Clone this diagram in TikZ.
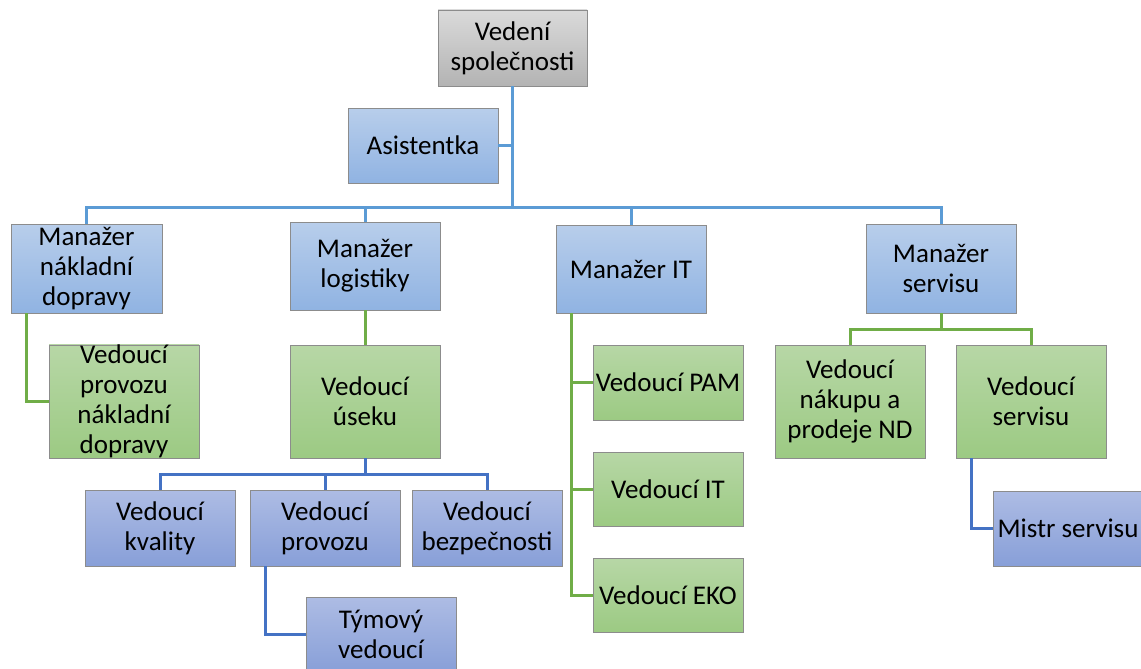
\documentclass[tikz,border=0pt]{standalone}
\usepackage{fontspec}
\setmainfont{Carlito}
\definecolor{grayT}{HTML}{DADADA}
\definecolor{grayB}{HTML}{B3B3B3}
\definecolor{blueT}{HTML}{B8CEEB}
\definecolor{blueB}{HTML}{90B3E2}
\definecolor{greenT}{HTML}{B7D7A6}
\definecolor{greenB}{HTML}{9CCA83}
\definecolor{purT}{HTML}{ADBCE4}
\definecolor{purB}{HTML}{889FD8}
\definecolor{lnBlue}{HTML}{5B9BD5}
\definecolor{lnGreen}{HTML}{70AD47}
\definecolor{lnDark}{HTML}{4472C4}
\tikzset{
  box/.style={draw=black!45, line width=0.9pt, align=center, inner sep=0pt,
    font=\fontsize{27}{30}\selectfont},
  grbox/.style={box, top color=grayT, bottom color=grayB},
  blbox/.style={box, top color=blueT, bottom color=blueB},
  gnbox/.style={box, top color=greenT, bottom color=greenB},
  pubox/.style={box, top color=purT, bottom color=purB},
  cblue/.style={draw=lnBlue, line width=3pt},
  cgreen/.style={draw=lnGreen, line width=3pt},
  cdark/.style={draw=lnDark, line width=3pt},
}
\begin{document}
\begin{tikzpicture}[x=1pt,y=-1pt]
\useasboundingbox (0,0) rectangle (1141,669);
\clip (0,0) rectangle (1141,669);
\fill[white] (0,0) rectangle (1141,669);

\node[grbox, minimum width=149pt, minimum height=76pt] (top) at (512.5,48) {Vedení\\společnosti};
\node[blbox, minimum width=150pt, minimum height=75pt] (asist) at (423,145.5) {Asistentka};
\node[blbox, minimum width=151pt, minimum height=89pt] (mnd) at (86.5,268.5) {Manažer\\nákladní\\dopravy};
\node[blbox, minimum width=150pt, minimum height=88pt] (mlog) at (365,266) {Manažer\\logistiky};
\node[blbox, minimum width=150pt, minimum height=88pt] (mit) at (631,269) {Manažer IT};
\node[blbox, minimum width=150pt, minimum height=89pt] (mser) at (941,268.5) {Manažer\\servisu};

\node[gnbox, minimum width=150pt, minimum height=113pt] (vpnd) at (124,401.5) {Vedoucí\\provozu\\nákladní\\dopravy};
\node[gnbox, minimum width=150pt, minimum height=113pt] (vus) at (365,401.5) {Vedoucí\\úseku};
\node[gnbox, minimum width=150pt, minimum height=75pt] (vpam) at (668,382.5) {Vedoucí PAM};
\node[gnbox, minimum width=150pt, minimum height=74pt] (vit) at (668,489) {Vedoucí IT};
\node[gnbox, minimum width=150pt, minimum height=74pt] (veko) at (668,595) {Vedoucí EKO};
\node[gnbox, minimum width=150pt, minimum height=113pt] (vnak) at (850,401.5) {Vedoucí\\nákupu a\\prodeje ND};
\node[gnbox, minimum width=150pt, minimum height=113pt] (vser) at (1031,401.5) {Vedoucí\\servisu};

\node[pubox, minimum width=150pt, minimum height=76pt] (vkv) at (160,528) {Vedoucí\\kvality};
\node[pubox, minimum width=150pt, minimum height=76pt] (vpr) at (325,528) {Vedoucí\\provozu};
\node[pubox, minimum width=150pt, minimum height=76pt] (vbez) at (487,528) {Vedoucí\\bezpečnosti};
\node[pubox, minimum width=150pt, minimum height=75pt] (tym) at (381,634.5) {Týmový\\vedoucí};
\node[pubox, minimum width=150pt, minimum height=75pt] (mistr) at (1068,528.5) {Mistr servisu};

% top-level connectors
\coordinate (bus) at (512.5,207);
\draw[cblue] (top.south) -- (bus);
\draw[cblue] (asist.east) -- (asist.east -| bus);
\draw[cblue] (mnd.north) |- (bus) -| (mser.north);
\draw[cblue] (mlog.north) -- (mlog.north |- bus);
\draw[cblue] (mit.north) -- (mit.north |- bus);

% green connectors
\draw[cgreen] ([xshift=-60.5pt]mnd.south) |- (vpnd.west);
\draw[cgreen] (mlog.south) -- (vus.north);
\coordinate (itl) at ([xshift=-60pt]mit.south);
\draw[cgreen] (itl) |- (veko.west);
\draw[cgreen] (vpam.west) -- (vpam.west -| itl);
\draw[cgreen] (vit.west) -- (vit.west -| itl);
\draw[cgreen] (mser.south) -- ++(0,16) coordinate (sb);
\draw[cgreen] (vnak.north) |- (sb) -| (vser.north);

% dark blue connectors
\draw[cdark] (vus.south) -- ++(0,16) coordinate (ub);
\draw[cdark] (vkv.north) |- (ub) -| (vbez.north);
\draw[cdark] (vpr.north) -- (vpr.north |- ub);
\draw[cdark] ([xshift=-60pt]vpr.south) |- (tym.west);
\draw[cdark] ([xshift=-60pt]vser.south) |- (mistr.west);
\end{tikzpicture}
\end{document}
